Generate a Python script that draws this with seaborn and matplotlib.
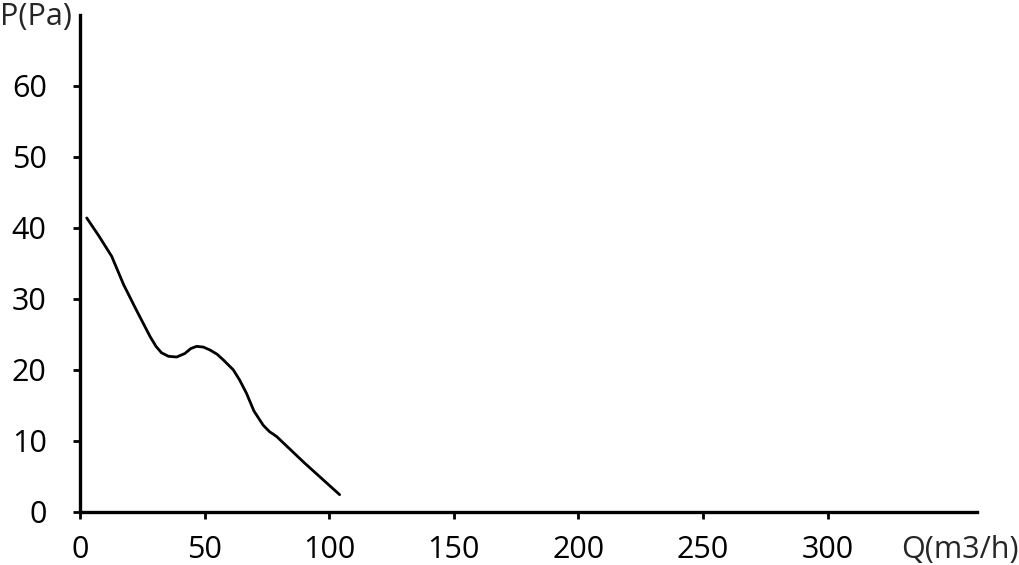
import matplotlib
matplotlib.use("Agg")
import matplotlib.pyplot as plt
import pandas as pd
import seaborn as sns

flow = [2.7, 7.5, 12.7, 17.5, 22.5, 28.1, 30.5, 32.7, 35.5, 38.8, 42.1, 44.5, 46.8,
        49.5, 52.1, 55.0, 57.5, 61.5, 64.0, 66.8, 69.8, 73.5, 76.0, 78.9, 90.0, 104.2]
pressure = [41.4, 38.9, 36.0, 32.0, 28.5, 24.7, 23.3, 22.4, 21.9, 21.8, 22.3, 23.0, 23.3,
            23.2, 22.8, 22.2, 21.4, 20.0, 18.6, 16.7, 14.2, 12.2, 11.3, 10.6, 6.9, 2.4]
x_ticks = [0, 50, 100, 150, 200, 250, 300]
y_ticks = [0, 10, 20, 30, 40, 50, 60]

df = pd.DataFrame({"Q": flow, "P": pressure})

sns.set_style("ticks")
plt.rcParams['font.family'] = ['Open Sans', 'DejaVu Sans']

fig = plt.figure(figsize=(10.19, 5.65), dpi=100)
ax = fig.add_axes([80 / 1019, 1 - 511.7 / 565, (977 - 80) / 1019, (511.7 - 15) / 565])

sns.lineplot(data=df, x="Q", y="P", ax=ax, color="black", linewidth=2.0)

ax.set_xlim(0, 360)
ax.set_ylim(0, 70)
ax.set_xticks(x_ticks)
ax.set_yticks(y_ticks)
ax.set_xlabel("")
ax.set_ylabel("")
sns.despine(ax=ax)
for side in ["left", "bottom"]:
    ax.spines[side].set_linewidth(2.4)
    ax.spines[side].set_color("black")
ax.tick_params(axis="y", length=5, width=2, pad=19, labelsize=22, colors="black")
ax.tick_params(axis="x", length=5, width=2, pad=12, labelsize=22, colors="black")

fig.text(0, 1 - 17 / 565, "P(Pa)", fontsize=22, ha="left", va="center")
fig.text(1019 / 1019, 1 - 550 / 565, "Q(m3/h)", fontsize=22, ha="right", va="center")

fig.savefig("out.png", dpi=100)
